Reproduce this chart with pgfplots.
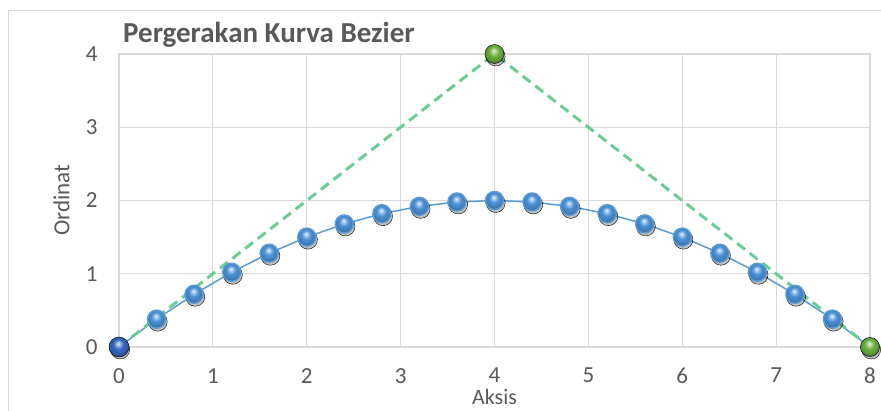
\documentclass[border=0pt]{standalone}
\usepackage{pgfplots}
\pgfplotsset{compat=1.18}
\usepackage{fontspec}
\setmainfont{Carlito}
\definecolor{txt}{HTML}{595959}
\definecolor{gridc}{HTML}{D9D9D9}
\definecolor{curveblue}{HTML}{5B9BD5}
\definecolor{ballblue}{HTML}{4A90D6}
\definecolor{startblue}{HTML}{3566C0}
\definecolor{ctrlgreen}{HTML}{6AAE3A}
\definecolor{dashgreen}{RGB}{108,204,150}
\makeatletter
\pgfdeclareradialshading[tikz@ball]{ball}{\pgfqpoint{-2bp}{9bp}}{%
 color(0bp)=(tikz@ball!10!white);
 color(5bp)=(tikz@ball!50!white);
 color(13bp)=(tikz@ball);
 color(22bp)=(tikz@ball!88!black);
 color(31bp)=(tikz@ball!55!black);
 color(50bp)=(tikz@ball!50!black)}
\makeatother
\begin{document}
\begin{tikzpicture}
\path[use as bounding box] (0,0) rectangle (881pt,-410pt);
\fill[white] (0,0) rectangle (881pt,-410pt);
\draw[gridc, line width=1.2pt] (8.5pt,-430pt) -- (8.5pt,-10.5pt) -- (900pt,-10.5pt);
\begin{axis}[
  at={(119pt,-347pt)}, anchor=south west,
  scale only axis, width=751pt, height=293pt,
  xmin=0, xmax=8, ymin=0, ymax=4,
  xtick={0,1,2,3,4,5,6,7,8}, ytick={0,1,2,3,4},
  major tick length=0pt,
  grid=major, grid style={gridc, line width=1.2pt},
  axis line style={gridc, line width=1.2pt},
  clip=false,
  tick label style={font=\fontsize{23}{27}\selectfont, text=txt},
  /pgf/number format/assume math mode=true,
  xticklabel style={inner sep=0pt, yshift=-21pt},
  yticklabel style={xshift=-18pt},
  xlabel={Aksis}, ylabel={Ordinat},
  label style={font=\fontsize{23}{27}\selectfont, text=txt},
  xlabel style={at={(axis description cs:0.5,0)}, anchor=north, inner sep=0pt, yshift=-42pt, font=\fontsize{22}{26}\selectfont},
  ylabel style={at={(axis description cs:0,0.5)}, anchor=south, yshift=46pt},
]
% shadows
\addplot[only marks, mark=*, mark size=9.5pt, mark options={fill=black, draw=none, fill opacity=0.25, xshift=1.2pt, yshift=-2.5pt}] coordinates {
(0,0) (0.4,0.38) (0.8,0.72) (1.2,1.02) (1.6,1.28) (2,1.5) (2.4,1.68) (2.8,1.82) (3.2,1.92) (3.6,1.98) (4,2) (4.4,1.98) (4.8,1.92) (5.2,1.82) (5.6,1.68) (6,1.5) (6.4,1.28) (6.8,1.02) (7.2,0.72) (7.6,0.38) (8,0) (4,4)};
% bezier curve
\addplot[curveblue, line width=1.5pt, mark=ball, mark size=9pt, mark options={ball color=ballblue}] coordinates {
(0,0) (0.4,0.38) (0.8,0.72) (1.2,1.02) (1.6,1.28) (2,1.5) (2.4,1.68) (2.8,1.82) (3.2,1.92) (3.6,1.98) (4,2) (4.4,1.98) (4.8,1.92) (5.2,1.82) (5.6,1.68) (6,1.5) (6.4,1.28) (6.8,1.02) (7.2,0.72) (7.6,0.38) (8,0)};
% control polygon
\addplot[dashgreen, line width=3pt, dash pattern=on 10pt off 6pt] coordinates {(0,0) (4,4) (8,0)};
% start point
\addplot[only marks, mark=ball, mark size=10pt, mark options={ball color=startblue}] coordinates {(0,0)};
% control and end points
\addplot[only marks, mark=ball, mark size=9.5pt, mark options={ball color=ctrlgreen}] coordinates {(4,4) (8,0)};
\end{axis}
\node[anchor=base west, font=\bfseries\fontsize{29}{35}\selectfont, text=txt, inner sep=0pt] at (123pt,-42pt) {Pergerakan Kurva Bezier};
\end{tikzpicture}
\end{document}
